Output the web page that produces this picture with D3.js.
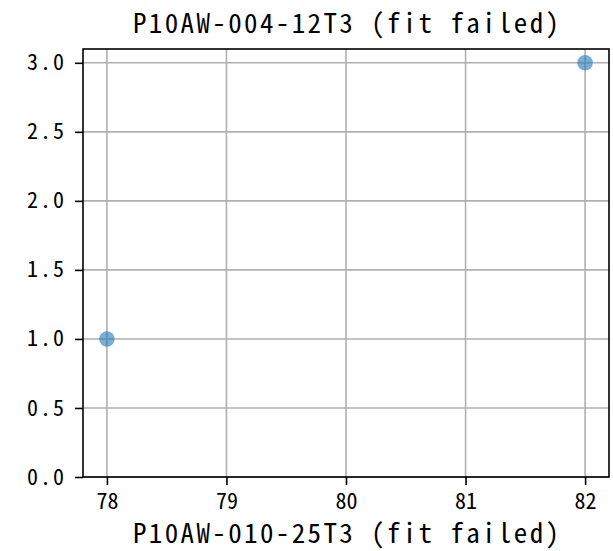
<!DOCTYPE html>
<html>
<head>
<meta charset="utf-8">
<script src="https://cdn.jsdelivr.net/npm/d3@7"></script>
<style>
  html, body { margin: 0; padding: 0; background: #fff; }
  svg text { font-family: "Noto Sans Mono CJK SC", "DejaVu Sans Mono", monospace; fill: #000; }
</style>
</head>
<body>
<svg id="chart" width="613" height="551"></svg>
<script>
// Scatter of two fitted parameters (both fits failed)
const xValues = [78, 82];
const yValues = [1, 3];
const xTicks = [78, 79, 80, 81, 82];
const yTicks = [0, 0.5, 1.0, 1.5, 2.0, 2.5, 3.0];
const titleText = "P10AW-004-12T3 (fit failed)";
const xLabelText = "P10AW-010-25T3 (fit failed)";

const W = 613, H = 551;
const margin = { left: 83, right: 4, top: 49, bottom: 74 };
const svg = d3.select("#chart");
const fontStack = '"Noto Sans Mono CJK SC", "DejaVu Sans Mono", monospace';

const x = d3.scaleLinear().domain([77.8, 82.2]).range([margin.left, W - margin.right]);
const y = d3.scaleLinear().domain([0, 3.1]).range([H - margin.bottom, margin.top]);

const gridColor = "#b0b0b0";

// grid
svg.append("g").selectAll("line").data(xTicks).join("line")
  .attr("x1", d => x(d)).attr("x2", d => x(d))
  .attr("y1", y.range()[1]).attr("y2", y.range()[0])
  .attr("stroke", gridColor).attr("stroke-width", 1.6);
svg.append("g").selectAll("line").data(yTicks).join("line")
  .attr("y1", d => y(d)).attr("y2", d => y(d))
  .attr("x1", x.range()[0]).attr("x2", x.range()[1])
  .attr("stroke", gridColor).attr("stroke-width", 1.6);

// points
svg.append("g").selectAll("circle").data(xValues.map((v, i) => [v, yValues[i]])).join("circle")
  .attr("cx", d => x(d[0])).attr("cy", d => y(d[1]))
  .attr("r", 7.8)
  .attr("fill", "#1f77b4").attr("fill-opacity", 0.6);

// axes
const xAxis = svg.append("g")
  .attr("transform", `translate(0,${y.range()[0]})`)
  .call(d3.axisBottom(x).tickValues(xTicks).tickFormat(d3.format("d")).tickSize(8).tickPadding(8));
const yAxis = svg.append("g")
  .attr("transform", `translate(${x.range()[0]},0)`)
  .call(d3.axisLeft(y).tickValues(yTicks).tickFormat(d3.format(".1f")).tickSize(8).tickPadding(9));

[xAxis, yAxis].forEach(g => {
  g.select(".domain").remove();
  g.selectAll(".tick line").attr("stroke", "#000").attr("stroke-width", 1.6);
  g.selectAll(".tick text").attr("font-size", 22).style("font-family", fontStack);
});
yAxis.selectAll(".tick text").style("letter-spacing", "2px");

// frame
svg.append("rect")
  .attr("x", x.range()[0]).attr("y", y.range()[1])
  .attr("width", x.range()[1] - x.range()[0])
  .attr("height", y.range()[0] - y.range()[1])
  .attr("fill", "none").attr("stroke", "#000").attr("stroke-width", 1.6);

// title and axis label
svg.append("text")
  .attr("x", (x.range()[0] + x.range()[1]) / 2).attr("y", 33)
  .attr("text-anchor", "middle").attr("font-size", 27)
  .attr("textLength", 426).attr("lengthAdjust", "spacing")
  .text(titleText);
svg.append("text")
  .attr("x", (x.range()[0] + x.range()[1]) / 2).attr("y", 543)
  .attr("text-anchor", "middle").attr("font-size", 27)
  .attr("textLength", 426).attr("lengthAdjust", "spacing")
  .text(xLabelText);
</script>
</body>
</html>
